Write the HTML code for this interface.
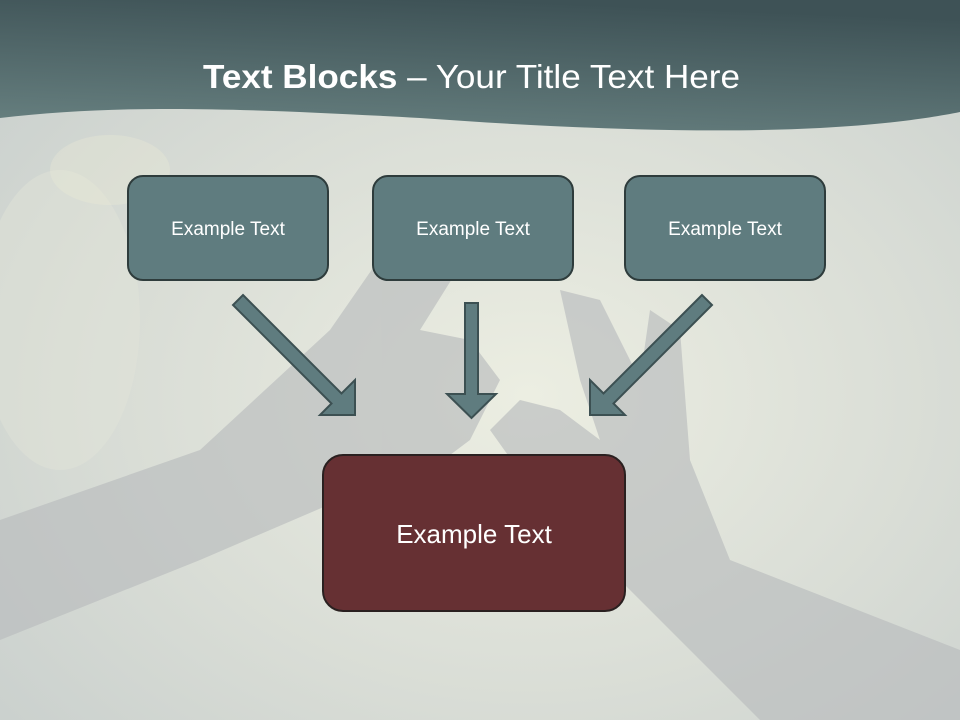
<!DOCTYPE html>
<html><head><meta charset="utf-8"><style>
html,body{margin:0;padding:0;width:960px;height:720px;overflow:hidden}
svg{display:block}
text{font-family:"Liberation Sans",sans-serif}
</style></head><body>
<svg width="960" height="720" viewBox="0 0 960 720" xmlns="http://www.w3.org/2000/svg">
<defs>
<linearGradient id="hd" x1="0.2" y1="1" x2="0.5" y2="0">
<stop offset="0" stop-color="#667f7f"/><stop offset="1" stop-color="#3e5256"/>
</linearGradient>
<radialGradient id="sky" cx="0.55" cy="0.55" r="0.7">
<stop offset="0" stop-color="#eceee2"/><stop offset="0.6" stop-color="#d9ddd6"/><stop offset="1" stop-color="#cbd1ce"/>
</radialGradient>
</defs>
<rect width="960" height="720" fill="url(#sky)"/>
<ellipse cx="60" cy="320" rx="80" ry="150" fill="#e4e6da" opacity="0.4"/>
<ellipse cx="110" cy="170" rx="60" ry="35" fill="#ecebd8" opacity="0.35"/>
<g fill="#b9bcbd" opacity="0.65">
<path d="M0 520 L200 450 L330 330 L420 200 L460 190 L470 250 L420 330 L470 340 L500 380 L470 440 L430 470 L380 470 L340 500 L200 560 L0 640 Z"/>
<path d="M560 290 L600 300 L640 380 L650 310 L680 330 L690 460 L730 560 L960 650 L960 720 L760 720 L680 640 L600 560 L540 500 L490 430 L520 400 L560 410 L600 440 L580 380 Z"/>
</g>
<path d="M0 118 C120 104 240 108 420 118 C560 128 700 134 820 128 C890 124 930 118 960 112 L960 0 L0 0 Z" fill="url(#hd)"/>
<text x="203" y="88" font-size="33" fill="#ffffff" textLength="537" lengthAdjust="spacingAndGlyphs"><tspan font-weight="bold">Text Blocks</tspan> – Your Title Text Here</text>
<g fill="#5f7c7f" stroke="#2e3c3c" stroke-width="2">
<rect x="128" y="176" width="200" height="104" rx="15"/>
<rect x="373" y="176" width="200" height="104" rx="15"/>
<rect x="625" y="176" width="200" height="104" rx="15"/>
</g>
<g font-size="19" fill="#ffffff" text-anchor="middle">
<text x="228" y="235">Example Text</text>
<text x="473" y="235">Example Text</text>
<text x="725" y="235">Example Text</text>
</g>
<g fill="#5f7c7f" stroke="#3c5052" stroke-width="2" stroke-linejoin="miter">
<polygon points="243,295 341.5,393.5 355,380 355,415 320,415 331.5,403.5 233,305"/>
<polygon points="702,295 603.5,393.5 590,380 590,415 625,415 613.5,403.5 712,305"/>
<polygon points="465,303 478,303 478,394 496,394 471.5,418 447,394 465,394"/>
</g>
<rect x="323" y="455" width="302" height="156" rx="20" fill="#663033" stroke="#2a2020" stroke-width="2"/>
<text x="474" y="543" font-size="26" fill="#ffffff" text-anchor="middle">Example Text</text>
</svg>
</body></html>
